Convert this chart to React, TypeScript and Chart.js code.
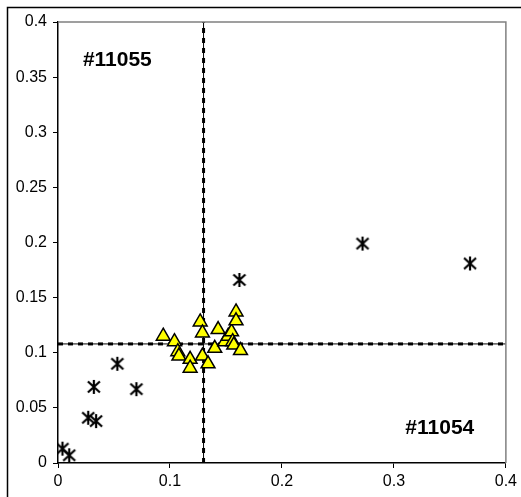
import React, { useEffect, useRef } from "react";
import { Chart, registerables } from "chart.js";

Chart.register(...registerables);

// Star series (asterisk markers)
const starX = [0.004, 0.010, 0.027, 0.034, 0.032, 0.053, 0.070, 0.162, 0.272, 0.368];
const starY = [0.013, 0.007, 0.041, 0.038, 0.069, 0.090, 0.067, 0.166, 0.199, 0.181];

// Triangle series (yellow)
const triX = [0.094, 0.104, 0.107, 0.108, 0.118, 0.118, 0.127, 0.129, 0.129, 0.134, 0.140, 0.143, 0.149, 0.152, 0.155, 0.156, 0.157, 0.159, 0.159, 0.163];
const triY = [0.115, 0.110, 0.101, 0.097, 0.094, 0.086, 0.128, 0.118, 0.097, 0.090, 0.104, 0.121, 0.110, 0.115, 0.119, 0.110, 0.107, 0.137, 0.129, 0.102];

// Reference lines
const vLineX = 0.13;
const hLineY = 0.108;

// Axis
const axisMin = 0;
const axisMax = 0.4;
const xStep = 0.1;
const yStep = 0.05;

// Quadrant labels
const labelText = ["#11055", "#11054"];
const labelX = [0.053, 0.341];
const labelY = [0.3655, 0.0317];

const FONT = "'Liberation Sans', Arial, sans-serif";

function makeStar(): HTMLCanvasElement {
  const c = document.createElement("canvas");
  c.width = 16;
  c.height = 16;
  const g = c.getContext("2d")!;
  g.strokeStyle = "#000";
  g.lineWidth = 2.2;
  g.lineCap = "butt";
  g.beginPath();
  g.moveTo(2, 2.5);
  g.lineTo(14, 13.5);
  g.moveTo(14, 2.5);
  g.lineTo(2, 13.5);
  g.moveTo(8, 1);
  g.lineTo(8, 15);
  g.stroke();
  return c;
}

const framePlugin = {
  id: "framePlugin",
  beforeDraw(chart: any) {
    const ctx = chart.ctx;
    ctx.save();
    ctx.fillStyle = "#fff";
    ctx.fillRect(0, 0, chart.width, chart.height);
    ctx.restore();
  },
  afterDraw(chart: any) {
    const ctx = chart.ctx;
    const { left, right, top, bottom } = chart.chartArea;
    ctx.save();
    // outer frame
    ctx.strokeStyle = "#000";
    ctx.lineWidth = 1.5;
    ctx.beginPath();
    ctx.moveTo(7.5, chart.height);
    ctx.lineTo(7.5, 7.5);
    ctx.lineTo(chart.width, 7.5);
    ctx.stroke();
    // plot area top/right border
    ctx.strokeStyle = "#808080";
    ctx.lineWidth = 1.5;
    ctx.beginPath();
    ctx.moveTo(left, top);
    ctx.lineTo(right, top);
    ctx.lineTo(right, bottom);
    ctx.stroke();
    // quadrant labels
    ctx.fillStyle = "#000";
    ctx.font = `bold 21px ${FONT}`;
    ctx.textAlign = "center";
    ctx.textBaseline = "middle";
    const xs = chart.scales.x;
    const ys = chart.scales.y;
    labelText.forEach((t, i) => {
      ctx.fillText(t, xs.getPixelForValue(labelX[i]), ys.getPixelForValue(labelY[i]));
    });
    ctx.restore();
  },
};

export default function App() {
  const ref = useRef<HTMLCanvasElement>(null);
  useEffect(() => {
    if (!ref.current) return;
    const star = makeStar();
    const chart = new Chart(ref.current, {
      type: "scatter",
      data: {
        datasets: [
          {
            label: "vsolid",
            data: [{ x: vLineX, y: axisMin }, { x: vLineX, y: axisMax }],
            showLine: true,
            borderColor: "#000",
            borderWidth: 1,
            pointRadius: 0,
            order: 10,
          },
          {
            label: "vdash",
            data: [{ x: vLineX, y: axisMin }, { x: vLineX, y: axisMax }],
            showLine: true,
            borderColor: "#000",
            borderWidth: 3,
            borderDash: [5, 5],
            pointRadius: 0,
            order: 9,
          },
          {
            label: "hsolid",
            data: [{ x: axisMin, y: hLineY }, { x: axisMax, y: hLineY }],
            showLine: true,
            borderColor: "#000",
            borderWidth: 1,
            pointRadius: 0,
            order: 10,
          },
          {
            label: "hdash",
            data: [{ x: axisMin, y: hLineY }, { x: axisMax, y: hLineY }],
            showLine: true,
            borderColor: "#000",
            borderWidth: 3,
            borderDash: [5, 5],
            pointRadius: 0,
            order: 9,
          },
          {
            label: "stars",
            data: starX.map((x, i) => ({ x, y: starY[i] })),
            pointStyle: star as any,
            pointRadius: 8,
            order: 1,
          },
          {
            label: "triangles",
            data: triX.map((x, i) => ({ x, y: triY[i] })),
            pointStyle: "triangle",
            pointRadius: 8,
            backgroundColor: "#FFFF00",
            borderColor: "#000",
            borderWidth: 1.5,
            order: 0,
          },
        ],
      },
      options: {
        animation: false,
        responsive: false,
        layout: { padding: { left: 8, top: 22, right: 11, bottom: 0 } },
        plugins: { legend: { display: false }, tooltip: { enabled: false } },
        scales: {
          x: {
            type: "linear",
            min: axisMin,
            max: axisMax,
            afterFit: (s: any) => {
              s.height = 34;
            },
            ticks: {
              stepSize: xStep,
              padding: 4,
              color: "#000",
              font: { family: FONT, size: 16 },
              callback: (v: any) => String(Math.round(Number(v) * 100) / 100),
            },
            grid: { drawOnChartArea: false, drawTicks: true, tickLength: 5, color: "#000", lineWidth: 1 },
            border: { color: "#000", width: 1.5 },
          },
          y: {
            type: "linear",
            min: axisMin,
            max: axisMax,
            afterFit: (s: any) => {
              s.width = 50;
            },
            ticks: {
              stepSize: yStep,
              padding: 6,
              color: "#000",
              font: { family: FONT, size: 16 },
              callback: (v: any) => String(Math.round(Number(v) * 100) / 100),
            },
            grid: { drawOnChartArea: false, drawTicks: true, tickLength: 5, color: "#000", lineWidth: 1 },
            border: { color: "#000", width: 1.5 },
          },
        },
      },
      plugins: [framePlugin],
    });
    return () => chart.destroy();
  }, []);
  return (
    <div style={{ position: "absolute", left: 0, top: 0, width: 521, height: 497 }}>
      <canvas ref={ref} width={521} height={497} style={{ display: "block" }} />
    </div>
  );
}
